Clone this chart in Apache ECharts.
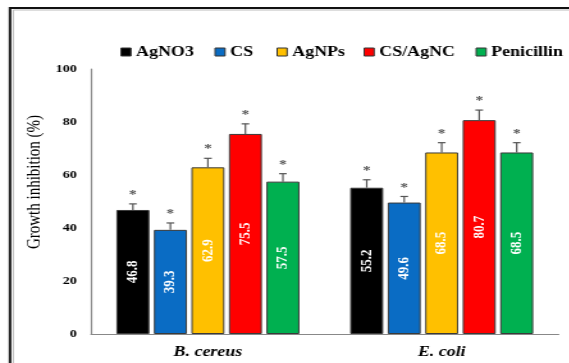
<!DOCTYPE html>
<html>
<head>
<meta charset="utf-8">
<script src="https://cdn.jsdelivr.net/npm/echarts@6/dist/echarts.min.js"></script>
<style>
  html, body { margin: 0; padding: 0; background: #fff; overflow: hidden; }
  /* The figure uses a wide, horizontally stretched aspect */
  #chart { width: 444.5px; height: 363px; transform: scaleX(1.28); transform-origin: 0 0; }
</style>
</head>
<body>
<div id="chart"></div>
<script>
// Bacterial strains on the x axis
const categories = ['B. cereus', 'E. coli'];
// Treatments (one bar series each)
const treatments = ['AgNO3', 'CS', 'AgNPs', 'CS/AgNC', 'Penicillin'];
const colors = ['#000000', '#0a6cc4', '#ffc000', '#ff0000', '#00b050'];
// Growth inhibition (%) per treatment, [B. cereus, E. coli]
const agno3 = [46.8, 55.2];
const cs = [39.3, 49.6];
const agnps = [62.9, 68.5];
const csAgnc = [75.5, 80.7];
const penicillin = [57.5, 68.5];
// Standard deviations shown as error bars
const agno3Err = [2.3, 3.0];
const csErr = [2.6, 2.3];
const agnpsErr = [3.4, 3.7];
const csAgncErr = [3.8, 3.8];
const penicillinErr = [3.0, 3.7];
// Y axis ticks
const yTicks = [0, 20, 40, 60, 80, 100];

const values = [agno3, cs, agnps, csAgnc, penicillin];
const errors = [agno3Err, csErr, agnpsErr, csAgncErr, penicillinErr];

const SX = 1.28;              // horizontal stretch applied to the canvas
const BAR_W = 25.8;
const BAR_GAP = 3.5;
const legendLeft = [89, 162.5, 211, 279, 366.5];
const serif = '"Liberation Serif", "Times New Roman", serif';

const chart = echarts.init(document.getElementById('chart'), null, { renderer: 'canvas' });

const barSeries = treatments.map((name, i) => ({
  name,
  type: 'bar',
  data: values[i],
  barWidth: BAR_W,
  barGap: (BAR_GAP / BAR_W * 100) + '%',
  itemStyle: { color: colors[i], borderColor: '#3a3a3a', borderWidth: 1 },
  label: {
    show: true,
    position: 'inside',
    rotate: 90,
    color: '#ffffff',
    fontFamily: serif,
    fontWeight: 'bold',
    fontSize: 13,
    formatter: p => p.value.toFixed(1)
  },
  z: 2
}));

// Error bars with significance asterisks, placed over each bar
const errorSeries = treatments.map((name, i) => ({
  type: 'custom',
  name: name + ' error',
  data: values[i].map((v, j) => [j, v, errors[i][j]]),
  silent: true,
  z: 3,
  renderItem: (params, api) => {
    const catIdx = api.value(0);
    const top = api.coord([catIdx, api.value(1)]);
    const hi = api.coord([catIdx, api.value(1) + api.value(2)]);
    const n = treatments.length;
    const groupW = n * BAR_W + (n - 1) * BAR_GAP;
    const x = top[0] - groupW / 2 + i * (BAR_W + BAR_GAP) + BAR_W / 2;
    const stroke = { stroke: '#555', lineWidth: 1.2 };
    return {
      type: 'group',
      children: [
        { type: 'line', shape: { x1: x, y1: top[1], x2: x, y2: hi[1] }, style: stroke },
        { type: 'line', shape: { x1: x - 3, y1: hi[1], x2: x + 3, y2: hi[1] }, style: stroke },
        {
          type: 'text',
          x: x,
          y: hi[1] - 3,
          style: {
            text: '*', fill: '#555', fontSize: 12, fontFamily: serif, fontWeight: 'bold',
            align: 'center', verticalAlign: 'bottom'
          }
        }
      ]
    };
  }
}));

chart.setOption({
  animation: false,
  backgroundColor: '#ffffff',
  grid: { left: 91 / SX, right: 11 / SX, top: 69, bottom: 29, containLabel: false },
  legend: treatments.map((t, i) => ({
    data: [t],
    left: legendLeft[i],
    top: 40,
    icon: 'rect',
    itemWidth: 7.8,
    itemHeight: 8,
    textStyle: { fontFamily: serif, fontWeight: 'bold', fontSize: 14, color: '#000', padding: [0, 0, 0, -1] },
    itemStyle: { borderColor: '#333', borderWidth: 1 }
  })),
  xAxis: {
    type: 'category',
    data: categories,
    axisLine: { lineStyle: { color: '#888', width: 1.2 } },
    axisTick: { show: false },
    axisLabel: {
      fontFamily: serif, fontWeight: 'bold', fontStyle: 'italic', fontSize: 14, color: '#000', margin: 11
    }
  },
  yAxis: {
    type: 'value',
    min: yTicks[0],
    max: yTicks[yTicks.length - 1],
    interval: 20,
    axisLine: { show: true, lineStyle: { color: '#888', width: 1.2 } },
    axisTick: { show: false },
    splitLine: { show: false },
    axisLabel: { fontFamily: serif, fontWeight: 'bold', fontSize: 11, color: '#000', margin: 11 }
  },
  graphic: [
    {
      type: 'rect',
      shape: { x: 10 / SX, y: 8, width: 600, height: 420 },
      style: { fill: null, stroke: '#111', lineWidth: 2 },
      silent: true
    },
    {
      type: 'rect',
      shape: { x: 12 / SX + 1, y: 10, width: 600, height: 420 },
      style: { fill: null, stroke: '#bbb', lineWidth: 1 },
      silent: true
    },
    {
      type: 'text',
      x: 34 / SX,
      y: 182,
      rotation: Math.PI / 2,
      style: {
        text: 'Growth inhibition (%)',
        fontFamily: serif, fontWeight: 'normal', fontSize: 15, fill: '#000',
        align: 'center', verticalAlign: 'middle'
      }
    }
  ],
  series: [...barSeries, ...errorSeries]
});
</script>
</body>
</html>
